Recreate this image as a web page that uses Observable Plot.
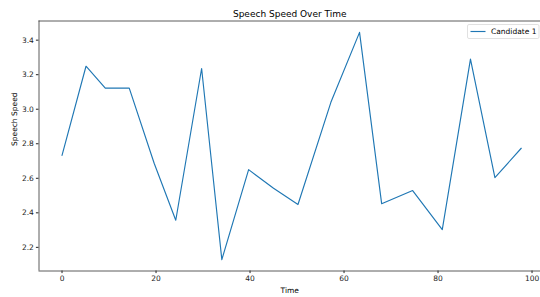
<!DOCTYPE html>
<html>
<head>
<meta charset="utf-8">
<script src="https://cdn.jsdelivr.net/npm/d3@7"></script>
<script src="https://cdn.jsdelivr.net/npm/@observablehq/plot@0.6"></script>
<style>
  html, body { margin: 0; padding: 0; background: white; }
  svg { display: block; }
</style>
</head>
<body>
<div id="chart"></div>
<script>
const times = [0, 5.1, 9.2, 14.3, 19.6, 24.2, 29.7, 34.0, 39.7, 45.0, 50.2, 57.2, 63.3, 68.0, 74.6, 80.9, 86.9, 92.1, 97.7];
const speeds = [2.733, 3.249, 3.122, 3.122, 2.687, 2.357, 3.236, 2.129, 2.650, 2.542, 2.448, 3.04, 3.445, 2.453, 2.529, 2.303, 3.290, 2.604, 2.774];
const xTicks = [0, 20, 40, 60, 80, 100];
const yTicks = [2.2, 2.4, 2.6, 2.8, 3.0, 3.2, 3.4];
const seriesName = "Candidate 1";
const titleText = "Speech Speed Over Time";
const xLabel = "Time";
const yLabel = "Speech Speed";

const data = times.map((t, i) => ({time: t, speed: speeds[i]}));
const xDomain = [-4.9, 101.8];
const yDomain = [2.063, 3.511];
const color = "#1f77b4";

const svg = Plot.plot({
  width: 540,
  height: 297,
  marginLeft: 38.5,
  marginRight: 0,
  marginTop: 20.5,
  marginBottom: 26.5,
  style: {fontFamily: "DejaVu Sans", fontSize: "7.5px", background: "white", color: "#222", overflow: "visible"},
  x: {domain: xDomain},
  y: {domain: yDomain},
  marks: [
    Plot.axisX({ticks: xTicks, tickSize: 2.6, tickPadding: 2.5, label: null, fontSize: 7.5}),
    Plot.axisY({ticks: yTicks, tickSize: 2.6, tickPadding: 2.5, label: null, fontSize: 7.5, tickFormat: d3.format(".1f")}),
    Plot.line(data, {x: "time", y: "speed", stroke: color, strokeWidth: 1.15}),
    Plot.ruleX([xDomain[0]], {stroke: "#333", strokeWidth: 0.8}),
    Plot.ruleY([yDomain[0], yDomain[1]], {stroke: "#333", strokeWidth: 0.8}),
    Plot.text([titleText], {text: d => d, frameAnchor: "top", dy: -4.5, lineAnchor: "bottom", fontSize: 9, fill: "#000"}),
    Plot.text([xLabel], {text: d => d, frameAnchor: "bottom", dy: 19.5, lineAnchor: "middle", fontSize: 7.5, fill: "#000"}),
    Plot.text([yLabel], {text: d => d, frameAnchor: "left", dx: -24, rotate: -90, lineAnchor: "middle", fontSize: 7.5, fill: "#000"})
  ]
});
document.getElementById("chart").appendChild(svg);

// legend (matplotlib-style box at upper right)
const s = d3.select(svg);
const g = s.append("g").attr("font-family", "DejaVu Sans").attr("font-size", "7.5px").attr("text-anchor", "start");
g.append("rect").attr("x", 467.5).attr("y", 24.5).attr("width", 71.5).attr("height", 14)
  .attr("fill", "white").attr("fill-opacity", 0.8).attr("stroke", "#ccc").attr("stroke-width", 0.6).attr("rx", 1.5);
g.append("line").attr("x1", 470.5).attr("x2", 485.5).attr("y1", 31.5).attr("y2", 31.5)
  .attr("stroke", color).attr("stroke-width", 1.15);
g.append("text").attr("x", 491).attr("y", 31.5).attr("dy", "0.35em").attr("fill", "#000").attr("text-anchor", "start").text(seriesName);
</script>
</body>
</html>
